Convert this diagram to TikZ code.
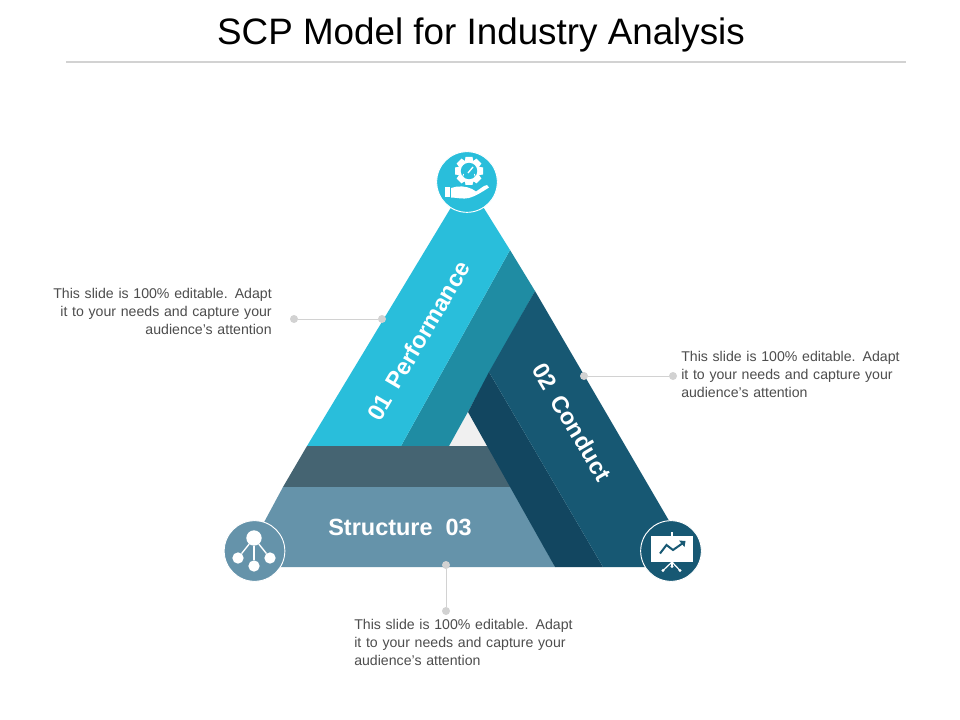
\documentclass[tikz,border=0pt]{standalone}
\usepackage{fontspec}
\setmainfont{Liberation Sans}
\definecolor{cLight}{HTML}{29BEDB}
\definecolor{cTeal}{HTML}{1F8CA3}
\definecolor{cDark}{HTML}{175873}
\definecolor{cDarker}{HTML}{124660}
\definecolor{cBand}{HTML}{456472}
\definecolor{cStruct}{HTML}{6593AA}
\definecolor{cGap}{HTML}{F0F0F0}
\definecolor{cLine}{HTML}{D2D2D2}
\definecolor{cText}{HTML}{4D4D4D}
\tikzset{
  px/.style={x=0.75pt,y=-0.75pt},
  dotnode/.style={circle,fill=cLine,draw=none,inner sep=0pt,outer sep=0pt,minimum size=6pt},
  leader/.style={draw=cLine,line width=0.6pt},
  badge/.style={circle,draw=white,line width=0.7pt,minimum size=45.5pt,inner sep=0pt},
  netdot/.style={circle,fill=white,inner sep=0pt,outer sep=0pt},
  body/.style={font=\fontsize{10.6}{13.4}\selectfont,text=cText,inner sep=0pt,text width=175pt},
  band/.style={font=\bfseries\fontsize{17.6}{20}\selectfont,text=white,inner sep=0pt},
}
\begin{document}
\begin{tikzpicture}[px]
\useasboundingbox (0,0) rectangle (960,720);
\fill[white] (0,0) rectangle (960,720);
% title
\node[inner sep=0pt,font=\fontsize{27.6}{30}\selectfont,text=black] (title) at (481,35) {SCP Model for Industry Analysis};
\coordinate (ruleL) at (66,62);
\coordinate (ruleR) at (906,62);
\draw[draw=cLine,line width=0.9pt] (ruleL) -- (ruleR);
% triangle
\fill[cGap] (468,412) -- (449,446) -- (488,446) -- cycle;
\fill[cTeal] (510,250) -- (535,291) -- (449,446) -- (401,446) -- cycle;
\fill[cLight] (467,181) -- (510,250) -- (401,446) -- (307,446) -- cycle;
\fill[cBand] (307,446) -- (488,446) -- (512,487) -- (283,487) -- cycle;
\fill[cStruct] (283,487) -- (512,487) -- (555,567) -- (240,567) -- cycle;
\fill[cDarker] (489,372) -- (603,567) -- (555,567) -- (468,412) -- cycle;
\fill[cDark] (535,291) -- (696,567) -- (603,567) -- (489,372) -- cycle;
% band labels
\node[band,rotate=59.5] (perf) at (418.5,340.5) {01\hspace{0.45em}Performance};
\node[band,rotate=-59.5] (cond) at (572,422) {02\hspace{0.45em}Conduct};
\node[band] (struct) at (400,527.5) {Structure\hspace{0.55em}03};
% badges
\node[badge,fill=cLight] (b1) at (467,182) {};
\node[badge,fill=cStruct] (b3) at (254.5,551) {};
\node[badge,fill=cDark] (b2) at (671,551) {};
% icon: gear and hand
\foreach \a in {0,45,...,315}{
  \fill[white,rotate around={\a:(469,171)}] (465.5,157) -- (472.5,157) -- (473.5,163) -- (464.5,163) -- cycle;
}
\fill[white] (469,171) circle[radius=11];
\fill[cLight] (469,171) circle[radius=8.2];
\draw[white,line width=0.6pt] (463.6,174) arc[start angle=209,end angle=-29,radius=6.2];
\draw[white,line width=1pt] (468,173) -- (473,167);
% hand
\fill[white] (445,187.5) rectangle (450,197.5);
\fill[white] (451,188) .. controls (458,185.5) and (466,186) .. (472,189) -- (476,191.5) -- (484,186) -- (487,185) -- (489,187.5) .. controls (482,192) and (476,196) .. (469,198) .. controls (463,199.5) and (456,197.5) .. (451,197.5) -- cycle;
% icon: structure
\node[netdot,minimum size=11.5pt] (n0) at (254,538) {};
\node[netdot,minimum size=8.5pt] (n1) at (238,558) {};
\node[netdot,minimum size=8.5pt] (n2) at (254,566) {};
\node[netdot,minimum size=8.5pt] (n3) at (270,558) {};
\draw[white,line width=1pt] (n0) -- (n1);
\draw[white,line width=1pt] (n0) -- (n2);
\draw[white,line width=1pt] (n0) -- (n3);
% icon: chart
\fill[white] (651,536) rectangle (693,562);
\fill[white] (671,532) rectangle (673,536);
\draw[cDark,line width=1.5pt,line join=miter] (660,553.5) -- (666.5,545) -- (673,550) -- (683,543);
\fill[cDark] (685.5,541) -- (679,540.5) -- (684.5,547) -- cycle;
\draw[white,line width=0.9pt] (672,562) -- (663,570.5);
\draw[white,line width=0.9pt] (672,562) -- (680,570.5);
\draw[white,line width=0.9pt] (672,562) -- (672,566);
\fill[white] (663,570.5) circle[radius=1.6];
\fill[white] (680,570.5) circle[radius=1.6];
\fill[white] (672,566.5) circle[radius=1.6];
% callouts
\node[dotnode] (l1) at (294,319) {};
\node[dotnode] (l2) at (382,319) {};
\draw[leader] (l1) -- (l2);
\node[dotnode] (r1) at (584,376) {};
\node[dotnode] (r2) at (673,376) {};
\draw[leader] (r1) -- (r2);
\node[dotnode] (m1) at (446,565) {};
\node[dotnode] (m2) at (446,611) {};
\draw[leader] (m1) -- (m2);
\node[body,anchor=east,align=right] (tl) at (272,311.5) {This slide is 100\% editable. Adapt\\it to your needs and capture your\\audience's attention};
\node[body,anchor=west,align=left] (tr) at (681,374.5) {This slide is 100\% editable. Adapt\\it to your needs and capture your\\audience's attention};
\node[body,anchor=west,align=left] (tm) at (354,642.5) {This slide is 100\% editable. Adapt\\it to your needs and capture your\\audience's attention};
\end{tikzpicture}
\end{document}
